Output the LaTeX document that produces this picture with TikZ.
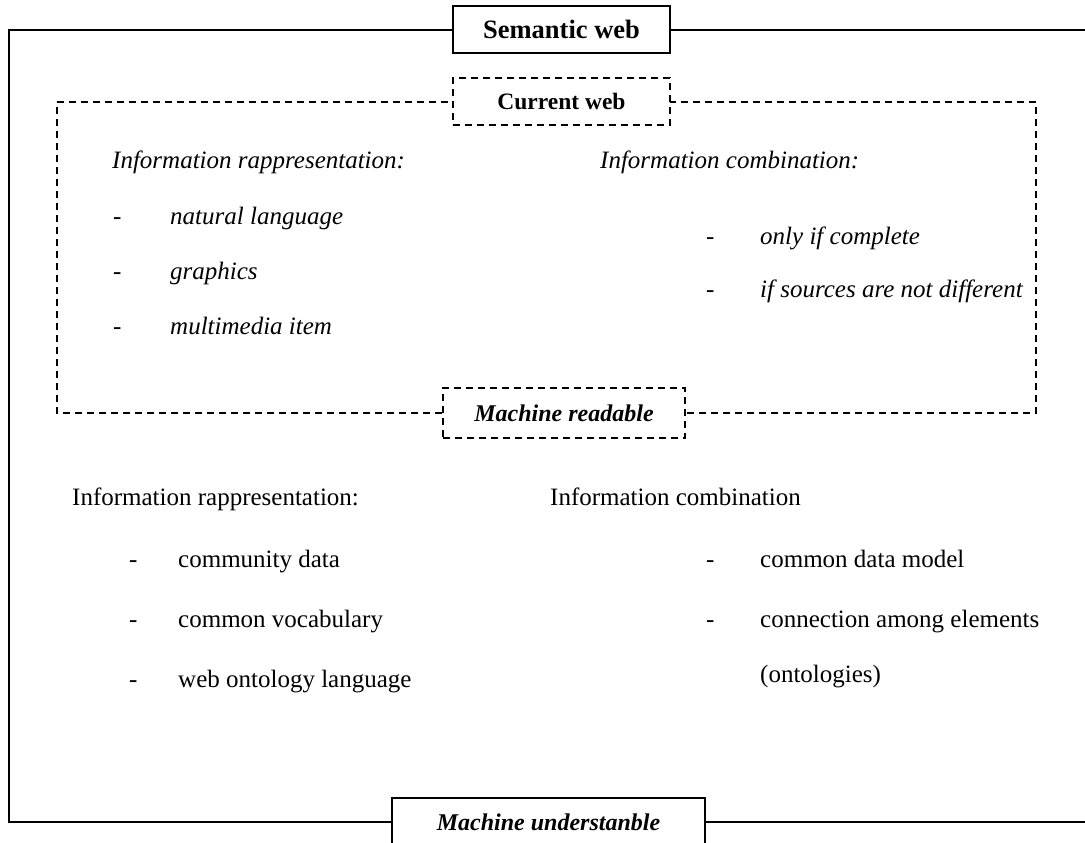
\documentclass[tikz,border=0pt]{standalone}
\usepackage{fontspec}
\setmainfont{Liberation Serif}
\begin{document}
\begin{tikzpicture}[x=1pt,y=-1pt,
  frame/.style={line width=1.5pt},
  dframe/.style={line width=1.3pt, dash pattern=on 7pt off 5pt},
  solidbox/.style={draw, frame, fill=white, inner sep=0pt, font=\fontsize{26.5}{30}\selectfont\bfseries},
  dashbox/.style={draw, dframe, fill=white, inner sep=0pt, font=\fontsize{23.5}{28}\selectfont\bfseries},
  txt/.style={anchor=base west, inner sep=0pt, font=\fontsize{25}{30}\selectfont},
  itxt/.style={anchor=base west, inner sep=0pt, font=\fontsize{25}{30}\selectfont\itshape}]
\useasboundingbox (0,0) rectangle (1085,843);
\clip (0,0) rectangle (1085,843);
\fill[white] (0,0) rectangle (1085,843);

% outer frame corners
\coordinate (otl) at (9,30);
\coordinate (obl) at (9,822);
\coordinate (otr) at (1100,30);
\coordinate (obr) at (1100,822);
% inner dashed frame corners
\coordinate (itl) at (57,102);
\coordinate (itr) at (1036,102);
\coordinate (ibl) at (57,413);
\coordinate (ibr) at (1036,413);

\draw[frame] (otr) -- (otl) -- (obl) -- (obr);
\draw[dframe] (itl) -- (itr) -- (ibr) -- (ibl) -- cycle;

\node[solidbox, minimum width=217pt, minimum height=47pt] (semantic) at (561.5,29.5) {Semantic web};
\node[dashbox, minimum width=217pt, minimum height=47pt] (current) at (561.5,101.5) {Current web};
\node[dashbox, minimum width=242pt, minimum height=50pt, font=\fontsize{24}{28}\selectfont\bfseries\itshape] (readable) at (564,413) {Machine readable};
\node[solidbox, minimum width=313pt, minimum height=48pt, font=\fontsize{24}{28}\selectfont\bfseries\itshape] (understand) at (548.5,822) {Machine understanble};

% upper (current web) content
\node[itxt] (ir1) at (112,168) {Information rappresentation:};
\node[itxt] (d1) at (113,224) {-};
\node[itxt] (t1) at (170,224) {natural language};
\node[itxt] (d2) at (113,279) {-};
\node[itxt] (t2) at (170,279) {graphics};
\node[itxt] (d3) at (113,334) {-};
\node[itxt] (t3) at (170,334) {multimedia item};

\node[itxt] (ic1) at (600,168) {Information combination:};
\node[itxt] (d4) at (706,244) {-};
\node[itxt] (t4) at (760,244) {only if complete};
\node[itxt] (d5) at (706,297) {-};
\node[itxt] (t5) at (760,297) {if sources are not different};

% lower (semantic web) content
\node[txt] (ir2) at (72,505) {Information rappresentation:};
\node[txt] (d6) at (129,567) {-};
\node[txt] (t6) at (178,567) {community data};
\node[txt] (d7) at (129,627) {-};
\node[txt] (t7) at (178,627) {common vocabulary};
\node[txt] (d8) at (129,687) {-};
\node[txt] (t8) at (178,687) {web ontology language};

\node[txt] (ic2) at (550,505) {Information combination};
\node[txt] (d9) at (706,567) {-};
\node[txt] (t9) at (760,567) {common data model};
\node[txt] (d10) at (706,627) {-};
\node[txt] (t10) at (760,627) {connection among elements};
\node[txt] (t11) at (760,682) {(ontologies)};
\end{tikzpicture}
\end{document}
